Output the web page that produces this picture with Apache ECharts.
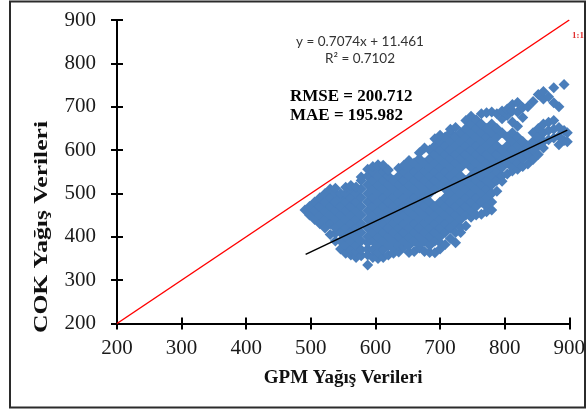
<!DOCTYPE html>
<html>
<head>
<meta charset="utf-8">
<script src="https://cdn.jsdelivr.net/npm/echarts@6/dist/echarts.min.js"></script>
<style>
  html, body { margin: 0; padding: 0; background: #fff; }
  #chart { width: 588px; height: 412px; }
</style>
</head>
<body>
<div id="chart"></div>
<script>
// GPM vs COK precipitation samples, grouped as [gpm, [cok values at that gpm]]
const westCluster = [
  [491, [462]],
  [498, [450, 470]],
  [506, [440, 460, 480]],
  [514, [430, 450, 470, 490]],
  [522, [420, 440, 460, 480, 500]],
  [530, [405, 430, 450, 470, 490, 510]],
  [538, [390, 408, 420, 440, 460, 480, 500, 512]],
  [546, [372, 390, 410, 430, 450, 470, 490, 500]],
  [554, [362, 380, 400, 420, 440, 460, 480, 500, 514]],
  [562, [358, 370, 390, 410, 430, 450, 470, 490, 510, 518]],
  [570, [352, 366, 380, 400, 420, 440, 460, 480, 500, 515]],
  [578, [356, 370, 390, 410, 430, 450, 470, 490, 510, 530, 538]],
  [588, [335, 358, 372, 386, 400, 420, 440, 460, 480, 500, 520, 540, 556]],
  [596, [352, 370, 390, 410, 430, 450, 470, 490, 510, 530, 550, 562]]
];

const centralCluster = [
  [604, [350, 362, 380, 400, 420, 440, 460, 480, 500, 520, 540, 560, 566]],
  [612, [352, 370, 390, 410, 430, 450, 470, 490, 510, 530, 550, 565]],
  [620, [358, 380, 400, 420, 440, 460, 480, 500, 520, 540, 554]],
  [628, [362, 372, 390, 410, 430, 450, 470, 490, 510, 530]],
  [636, [365, 380, 400, 420, 440, 460, 480, 500, 520, 540, 558]],
  [644, [376, 390, 410, 430, 450, 470, 490, 510, 530, 550, 565]],
  [652, [364, 380, 400, 420, 440, 460, 480, 500, 520, 540, 560, 576]],
  [660, [366, 390, 410, 430, 450, 470, 490, 510, 530, 550, 570]],
  [668, [374, 380, 400, 420, 440, 460, 480, 500, 520, 540, 560, 580, 594]],
  [676, [366, 390, 410, 430, 450, 470, 490, 510, 530, 550, 570, 605]],
  [684, [364, 380, 400, 420, 440, 460, 480, 500, 520, 540, 560, 580, 600]],
  [692, [363, 390, 410, 430, 450, 470, 510, 530, 550, 570, 590, 610, 626]],
  [700, [372, 386, 400, 420, 440, 460, 480, 520, 540, 560, 580, 600, 620, 634]],
  [708, [382, 410, 430, 450, 470, 490, 510, 530, 550, 570, 590, 610, 630]],
  [716, [396, 420, 440, 460, 480, 500, 520, 540, 560, 580, 600, 620, 640, 648]],
  [724, [386, 410, 430, 450, 470, 490, 510, 530, 550, 570, 590, 610, 630, 652]],
  [732, [410, 422, 440, 460, 480, 500, 520, 540, 560, 580, 600, 620, 640]],
  [740, [425, 450, 470, 490, 510, 530, 570, 590, 610, 630, 650, 668]]
];

const eastCluster = [
  [748, [445, 460, 480, 500, 520, 540, 560, 580, 600, 620, 640, 660, 678]],
  [756, [450, 470, 490, 510, 530, 550, 570, 590, 610, 630, 650, 670]],
  [764, [452, 480, 500, 520, 540, 560, 580, 600, 620, 640, 660, 684]],
  [772, [458, 470, 490, 510, 530, 550, 570, 590, 610, 630, 650, 686]],
  [780, [462, 480, 500, 520, 540, 560, 580, 600, 620, 640, 660, 688]],
  [788, [505, 530, 550, 570, 590, 610, 630, 650, 684]],
  [796, [528, 540, 560, 580, 600, 640, 672, 690]],
  [804, [545, 570, 590, 610, 630, 680, 695]],
  [812, [552, 560, 580, 600, 620, 640, 665, 690, 705]],
  [820, [556, 570, 590, 610, 630, 655, 688, 710]],
  [828, [562, 580, 600, 620, 675, 698]],
  [836, [568, 590, 610, 700]],
  [844, [578, 600, 620, 640, 712]],
  [852, [590, 610, 630, 650, 728]],
  [860, [605, 620, 640, 660, 718, 735]],
  [868, [624, 645, 664, 723]],
  [876, [628, 648, 668, 709, 744]],
  [884, [612, 632, 652, 700]],
  [892, [622, 645, 751]],
  [897, [619, 640]]
];

// Linear fit reported on the chart
const trendSlope = 0.7074;
const trendIntercept = 11.461;
const trendGpmRange = [492, 897];

// 1:1 reference line and axis extent
const axisRange = [200, 900];
const axisStep = 100;

const equationText = 'y = 0.7074x + 11.461';
const r2Text = 'R\u00B2 = 0.7102';
const rmseText = 'RMSE = 200.712';
const maeText = 'MAE = 195.982';

const points = [];
[westCluster, centralCluster, eastCluster].forEach(function (cluster) {
  cluster.forEach(function (col) {
    col[1].forEach(function (v) { points.push([col[0], v]); });
  });
});

const trendData = trendGpmRange.map(function (x) {
  return [x, trendSlope * x + trendIntercept];
});
const oneToOneData = axisRange.map(function (v) { return [v, v]; });

const serif = '"Liberation Serif", "Times New Roman", serif';

function valueAxis(extra) {
  return Object.assign({
    type: 'value',
    min: axisRange[0],
    max: axisRange[1],
    interval: axisStep,
    splitLine: { show: false },
    axisLine: { show: true, onZero: false, lineStyle: { color: '#000', width: 2 } },
    axisTick: { show: true, length: 6, lineStyle: { color: '#000', width: 2 } },
    axisLabel: { color: '#1a1a1a', fontFamily: serif, fontSize: 21 }
  }, extra);
}

const chart = echarts.init(document.getElementById('chart'), null, { renderer: 'canvas' });

chart.setOption({
  backgroundColor: '#fff',
  animation: false,
  grid: { left: 117, right: 16, top: 20, bottom: 88.5, containLabel: false },
  xAxis: [
    valueAxis({
      position: 'bottom',
      axisLabel: { color: '#1a1a1a', fontFamily: serif, fontSize: 21, margin: 14 },
      name: 'GPM Yağış Verileri',
      nameLocation: 'middle',
      nameGap: 45,
      nameTextStyle: { color: '#111', fontFamily: serif, fontSize: 19, fontWeight: 'bold' }
    }),
    valueAxis({
      position: 'bottom',
      axisLine: { show: false },
      axisLabel: { show: false },
      axisTick: { show: true, inside: true, length: 6, lineStyle: { color: '#000', width: 2 } }
    })
  ],
  yAxis: [
    valueAxis({
      position: 'left',
      axisLabel: { color: '#1a1a1a', fontFamily: serif, fontSize: 21, margin: 21 }
    }),
    valueAxis({
      position: 'left',
      axisLine: { show: false },
      axisLabel: { show: false },
      axisTick: { show: true, inside: true, length: 6, lineStyle: { color: '#000', width: 2 } }
    })
  ],
  series: [
    {
      type: 'scatter',
      xAxisIndex: 0,
      yAxisIndex: 0,
      data: points,
      symbol: 'diamond',
      symbolSize: 11,
      itemStyle: { color: '#4a7ebb', opacity: 1 },
      silent: true,
      z: 2
    },
    {
      type: 'line',
      xAxisIndex: 0,
      yAxisIndex: 0,
      data: trendData,
      symbol: 'none',
      lineStyle: { color: '#000', width: 1.5 },
      silent: true,
      z: 3
    },
    {
      type: 'line',
      xAxisIndex: 0,
      yAxisIndex: 0,
      data: oneToOneData,
      symbol: 'none',
      lineStyle: { color: '#ff0000', width: 1.5 },
      silent: true,
      z: 3
    }
  ],
  graphic: [
    {
      type: 'rect',
      shape: { x: 10, y: 1.5, width: 575, height: 406 },
      style: { fill: 'none', stroke: '#2b2b2b', lineWidth: 2 },
      silent: true
    },
    {
      type: 'text',
      x: 42, y: 227,
      rotation: Math.PI / 2,
      scaleX: 1.42,
      style: {
        text: 'COK Yağış Verileri',
        font: 'bold 18px ' + serif,
        fill: '#111',
        align: 'center',
        verticalAlign: 'middle'
      }
    },
    {
      type: 'text', x: 360, y: 42,
      style: { text: equationText, font: '13.5px Lato, "Open Sans", sans-serif', fill: '#333', align: 'center', verticalAlign: 'middle' }
    },
    {
      type: 'text', x: 360, y: 59,
      style: { text: r2Text, font: '13.5px Lato, "Open Sans", sans-serif', fill: '#333', align: 'center', verticalAlign: 'middle' }
    },
    {
      type: 'text', x: 290, y: 97,
      style: { text: rmseText, font: 'bold 17px ' + serif, fill: '#000', align: 'left', verticalAlign: 'middle' }
    },
    {
      type: 'text', x: 290, y: 116,
      style: { text: maeText, font: 'bold 17px ' + serif, fill: '#000', align: 'left', verticalAlign: 'middle' }
    },
    {
      type: 'text', x: 578, y: 36,
      style: { text: '1:1', font: 'bold 9px ' + serif, fill: '#e03030', align: 'center', verticalAlign: 'middle' }
    }
  ]
});
</script>
</body>
</html>
